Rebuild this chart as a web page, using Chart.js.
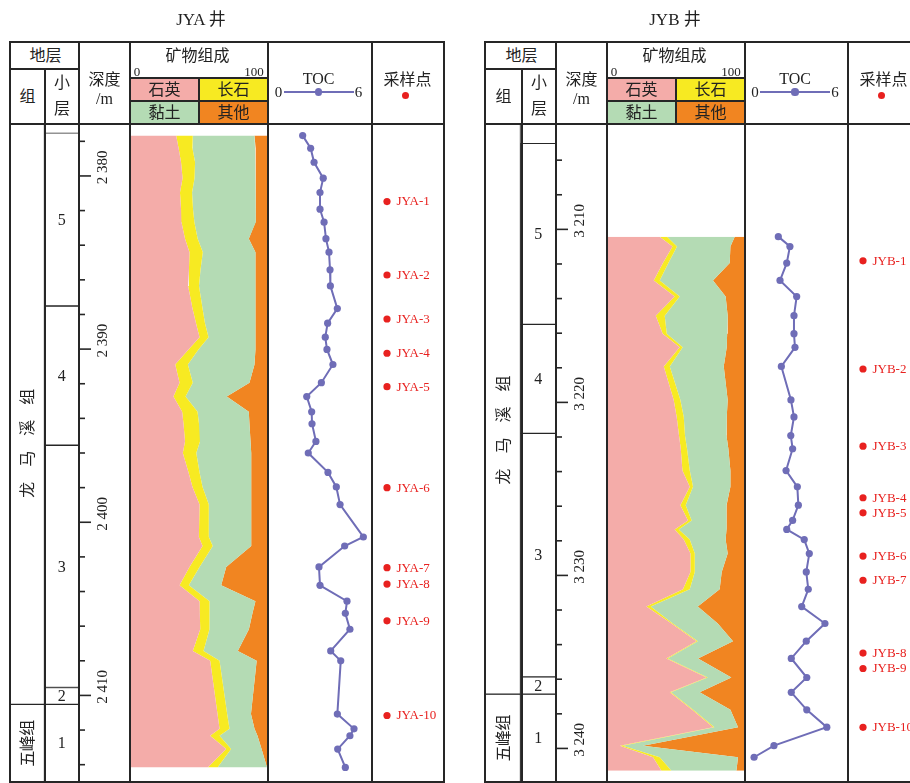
<!DOCTYPE html>
<html lang="zh">
<head>
<meta charset="utf-8">
<title>JYA / JYB 井</title>
<script src="https://cdn.jsdelivr.net/npm/chart.js@4.4.1/dist/chart.umd.min.js"></script>
<style>
html,body{margin:0;padding:0;background:#fff;}
#root{position:relative;width:910px;height:783px;overflow:hidden;background:#fff;font-family:"Liberation Serif","Noto Sans CJK SC",serif;color:#222;}
#root canvas{position:absolute;display:block;}
.ln{position:absolute;background:#262626;}
.bx{position:absolute;}
.t{position:absolute;white-space:nowrap;transform:translate(-50%,-50%);line-height:1;}
</style>
</head>
<body>
<div id="root"></div>
<script>
// ================= DATA =================
// ---- JYA well ----
const jyaRange = [2377.0, 2415.0];
const jyaDepthTicks = [2378,2380,2382,2384,2386,2388,2390,2392,2394,2396,2398,2400,2402,2404,2406,2408,2410,2412,2414];
const jyaDepthLabelValues = [2380, 2390, 2400, 2410];
const jyaDepthLabels = ['2 380', '2 390', '2 400', '2 410'];
const jyaFormationNames = ['龙马溪组', '五峰组'];
const jyaFormationTop = [2377.0, 2410.52];
const jyaFormationBottom = [2410.52, 2415.0];
const jyaLayerNames = ['5', '4', '3', '2', '1'];
const jyaLayerTop = [2377.51, 2387.51, 2395.55, 2409.54, 2410.52];
const jyaLayerBottom = [2387.51, 2395.55, 2409.54, 2410.52, 2415.0];
const jyaDepth = [2377.67, 2378.40, 2379.21, 2380.13, 2380.96, 2381.92, 2382.67, 2383.62, 2384.40, 2385.42,
  2386.35, 2387.66, 2388.50, 2389.31, 2390.02, 2390.89, 2391.94, 2392.74, 2393.62, 2394.31,
  2395.33, 2396.00, 2397.12, 2397.96, 2398.98, 2400.85, 2401.37, 2402.58, 2403.64, 2404.56,
  2405.26, 2406.18, 2407.43, 2408.00, 2411.08, 2411.93, 2412.33, 2413.10, 2414.16];
const jyaToc = [1.98, 2.45, 2.65, 3.19, 3.00, 3.00, 3.24, 3.35, 3.53, 3.59,
  3.61, 4.02, 3.45, 3.31, 3.41, 3.76, 3.08, 2.22, 2.51, 2.53,
  2.76, 2.31, 3.47, 3.96, 4.18, 5.55, 4.45, 2.94, 3.00, 4.59,
  4.49, 4.76, 3.63, 4.22, 4.02, 5.00, 4.76, 4.04, 4.49];
const jyaQuartz = [33.2, 35.0, 36.8, 37.9, 36.0, 36.8, 37.1, 39.7, 43.0, 42.6,
  42.0, 45.2, 47.8, 50.4, 42.3, 32.5, 35.7, 31.2, 37.6, 38.6,
  39.7, 38.1, 42.3, 45.2, 50.4, 49.9, 52.6, 43.0, 35.7, 50.4,
  50.6, 50.9, 45.4, 58.2, 63.6, 65.1, 58.2, 70.0, 56.4];
const jyaFeldspar = [12.2, 10.2, 10.3, 8.8, 8.9, 8.8, 9.5, 9.3, 9.8, 8.5,
  8.0, 7.4, 6.6, 6.6, 7.3, 9.3, 9.7, 8.9, 11.3, 11.4,
  11.0, 9.9, 8.1, 7.4, 6.8, 7.3, 7.5, 7.4, 6.8, 7.3,
  7.1, 6.8, 7.9, 6.9, 7.1, 7.3, 6.9, 3.6, 7.2];
const jyaClay = [45.4, 46.0, 44.8, 45.2, 47.0, 45.9, 44.9, 37.6, 38.7, 40.4,
  41.5, 38.9, 37.1, 34.5, 41.9, 49.0, 41.7, 30.3, 37.7, 37.1,
  37.2, 40.4, 38.0, 35.8, 31.2, 31.2, 28.3, 19.6, 23.8, 33.8,
  31.6, 29.0, 25.2, 27.3, 17.5, 18.4, 27.9, 22.4, 36.4];
const jyaOther = [9.2, 8.8, 8.1, 8.1, 8.1, 8.5, 8.5, 13.4, 8.5, 8.5,
  8.5, 8.5, 8.5, 8.5, 8.5, 9.2, 12.9, 29.6, 13.4, 12.9,
  12.1, 11.6, 11.6, 11.6, 11.6, 11.6, 11.6, 30.0, 33.7, 8.5,
  10.7, 13.3, 21.5, 7.6, 11.8, 9.2, 7.0, 4.0, 0.0];
const jyaSampleNames = ['JYA-1','JYA-2','JYA-3','JYA-4','JYA-5','JYA-6','JYA-7','JYA-8','JYA-9','JYA-10'];
const jyaSampleDepth = [2381.48, 2385.72, 2388.26, 2390.24, 2392.17, 2398.00, 2402.62, 2403.57, 2405.69, 2411.16];

// ---- JYB well ----
const jybRange = [3203.91, 3241.94];
const jybDepthTicks = [3206,3208,3210,3212,3214,3216,3218,3220,3222,3224,3226,3228,3230,3232,3234,3236,3238,3240];
const jybDepthLabelValues = [3210, 3220, 3230, 3240];
const jybDepthLabels = ['3 210', '3 220', '3 230', '3 240'];
const jybFormationNames = ['龙马溪组', '五峰组'];
const jybFormationTop = [3203.91, 3236.86];
const jybFormationBottom = [3236.86, 3241.94];
const jybLayerNames = ['5', '4', '3', '2', '1'];
const jybLayerTop = [3205.03, 3215.49, 3221.79, 3235.86, 3236.86];
const jybLayerBottom = [3215.49, 3221.79, 3235.86, 3236.86, 3241.94];
const jybTocDepth = [3210.42, 3210.99, 3211.95, 3212.95, 3213.88, 3214.99, 3216.03, 3216.82, 3217.92, 3219.86,
  3220.84, 3221.92, 3222.68, 3223.94, 3224.88, 3225.94, 3226.82, 3227.34, 3227.93, 3228.74,
  3229.80, 3230.80, 3231.80, 3232.78, 3233.80, 3234.80, 3235.90, 3236.76, 3237.77, 3238.77,
  3239.84, 3240.51];
const jybToc = [1.92, 2.61, 2.42, 2.02, 3.01, 2.85, 2.85, 2.91, 2.10, 2.67,
  2.85, 2.66, 2.77, 2.38, 3.05, 3.11, 2.77, 2.42, 3.46, 3.76,
  3.58, 3.70, 3.31, 4.69, 3.58, 2.69, 3.61, 2.69, 3.61, 4.80,
  1.66, 0.48];
const jybMineralDepth = [3210.42, 3210.99, 3211.95, 3212.95, 3213.88, 3214.99, 3216.03, 3216.82, 3217.92, 3219.86,
  3220.84, 3221.92, 3222.68, 3223.94, 3224.88, 3225.94, 3226.82, 3227.34, 3227.93, 3228.74,
  3229.80, 3230.80, 3231.80, 3232.78, 3233.80, 3234.80, 3235.90, 3236.76, 3237.77, 3238.77,
  3239.84, 3240.51, 3241.29];
const jybQuartz = [38.0, 47.4, 40.4, 33.6, 49.0, 35.1, 40.2, 52.7, 41.0, 48.3,
  50.5, 52.2, 53.5, 54.7, 60.1, 53.2, 58.8, 49.0, 55.7, 60.6,
  60.6, 55.1, 28.2, 46.6, 65.0, 42.9, 72.4, 45.4, 61.8, 77.2,
  8.6, 33.1, 39.3];
const jybFeldspar = [5.4, 3.3, 4.0, 4.4, 3.7, 6.6, 3.0, 2.2, 4.4, 4.9,
  5.2, 4.4, 4.6, 5.4, 2.4, 3.9, 2.7, 3.0, 4.4, 3.2,
  3.2, 5.0, 3.2, 1.0, 1.0, 1.0, 0.9, 0.9, 0.8, 1.0,
  2.2, 4.9, 7.3];
const jybClay = [49.8, 39.3, 45.1, 39.2, 33.8, 46.3, 44.4, 32.4, 39.7, 34.8,
  31.6, 30.5, 30.4, 29.9, 27.5, 30.0, 25.8, 35.1, 26.4, 24.2,
  19.8, 22.0, 34.6, 33.1, 25.9, 22.3, 17.4, 21.1, 27.4, 17.4,
  14.9, 57.6, 47.8];
const jybOther = [6.8, 10.0, 10.5, 22.8, 13.5, 12.0, 12.4, 12.7, 14.9, 12.0,
  12.7, 12.9, 11.5, 10.0, 10.0, 12.9, 12.7, 12.9, 13.5, 12.0,
  16.4, 17.9, 34.0, 19.3, 8.1, 33.8, 9.3, 32.6, 10.0, 4.4,
  74.3, 4.4, 5.6];
const jybSampleNames = ['JYB-1','JYB-2','JYB-3','JYB-4','JYB-5','JYB-6','JYB-7','JYB-8','JYB-9','JYB-10'];
const jybSampleDepth = [3211.82, 3218.07, 3222.53, 3225.51, 3226.38, 3228.88, 3230.28, 3234.49, 3235.38, 3238.78];

const mineralNames = ['石英', '长石', '黏土', '其他'];

// ================= STYLE / LAYOUT =================
const COLORS = { line:'#262626', quartz:'#F4ACA9', feldspar:'#F7EA22', clay:'#B4DBB4', other:'#F18521', toc:'#6f6db7', sample:'#E8211F', text:'#222' };
const SERIF = '"Liberation Serif", "Noto Sans CJK SC", serif';
const CJK = '"Noto Sans CJK SC", "Liberation Serif", sans-serif';
const BODY_TOP = 124, BODY_BOT = 782, BODY_H = BODY_BOT - BODY_TOP;

const WELLS = [
  { title:'JYA 井', titleX:201, cols:[10,45,79,130,268,372,444], range:jyaRange,
    ticks:jyaDepthTicks, labelValues:jyaDepthLabelValues, labels:jyaDepthLabels,
    formations:jyaFormationNames, formationTop:jyaFormationTop, formationBottom:jyaFormationBottom,
    layers:jyaLayerNames, layerTop:jyaLayerTop, layerBottom:jyaLayerBottom,
    mineralDepth:jyaDepth, quartz:jyaQuartz, feldspar:jyaFeldspar, clay:jyaClay, other:jyaOther,
    tocDepth:jyaDepth, toc:jyaToc, sampleNames:jyaSampleNames, sampleDepth:jyaSampleDepth,
    formationText:[{depth:2395.44, step:31}, {depth:null, step:15.5}] },
  { title:'JYB 井', titleX:675, cols:[485,522,556,607,745,848,920], range:jybRange,
    ticks:jybDepthTicks, labelValues:jybDepthLabelValues, labels:jybDepthLabels,
    formations:jybFormationNames, formationTop:jybFormationTop, formationBottom:jybFormationBottom,
    layers:jybLayerNames, layerTop:jybLayerTop, layerBottom:jybLayerBottom,
    mineralDepth:jybMineralDepth, quartz:jybQuartz, feldspar:jybFeldspar, clay:jybClay, other:jybOther,
    tocDepth:jybTocDepth, toc:jybToc, sampleNames:jybSampleNames, sampleDepth:jybSampleDepth,
    formationText:[{depth:3221.6, step:31}, {depth:null, step:15.5}] }
];

// ================= HELPERS =================
const root = document.getElementById('root');
function el(tag, cls, style){ const e = document.createElement(tag); if (cls) e.className = cls; Object.assign(e.style, style || {}); root.appendChild(e); return e; }
function hline(x1, x2, y, t = 2, color){ const e = el('div','ln',{left:(x1 - t/2)+'px', top:(y - t/2)+'px', width:(x2 - x1 + t)+'px', height:t+'px'}); if (color) e.style.background = color; return e; }
function vline(x, y1, y2, t = 2){ return el('div','ln',{left:(x - t/2)+'px', top:(y1 - t/2)+'px', width:t+'px', height:(y2 - y1 + t)+'px'}); }
function box(x, y, w, h, bg){ return el('div','bx',{left:x+'px', top:y+'px', width:w+'px', height:h+'px', background:bg}); }
function dot(x, y, r, bg){ return el('div','bx',{left:(x - r)+'px', top:(y - r)+'px', width:(2*r)+'px', height:(2*r)+'px', borderRadius:'50%', background:bg}); }
function label(str, x, y, size, extra){ const e = el('div','t', Object.assign({left:x+'px', top:y+'px', fontSize:size+'px'}, extra || {})); e.textContent = str; return e; }
function canvasAt(x, y, w, h){ const c = el('canvas', null, {left:x+'px', top:y+'px', width:w+'px', height:h+'px'}); c.width = w; c.height = h; return c; }
function baseOpts(){
  return { responsive:false, maintainAspectRatio:false, animation:false, events:[],
    layout:{ padding:0, autoPadding:false },
    plugins:{ legend:{display:false}, tooltip:{enabled:false}, title:{display:false} } };
}

// ================= BUILD =================
function buildWell(w){
  const c = w.cols;
  const yScale = () => ({ type:'linear', min:w.range[0], max:w.range[1], reverse:true, display:false });

  // --- strata columns (floating bars) ---
  const cvS = canvasAt(c[0], BODY_TOP, c[2] - c[0], BODY_H);
  const sds = [];
  w.formations.forEach((n, i) => sds.push({ label:n, kind:'f', idx:i, data:[[w.formationTop[i], w.formationBottom[i]], null] }));
  w.layers.forEach((n, i) => sds.push({ label:n, kind:'l', idx:i, data:[null, [w.layerTop[i], w.layerBottom[i]]] }));
  sds.forEach(d => Object.assign(d, { backgroundColor:'#fff', borderColor:COLORS.line, borderWidth:1, borderSkipped:false, grouped:false, barPercentage:1, categoryPercentage:1 }));
  new Chart(cvS, {
    type:'bar',
    data:{ labels:['组','小层'], datasets:sds },
    options:Object.assign(baseOpts(), { scales:{ x:{ type:'category', display:false }, y:yScale() } }),
    plugins:[{ id:'strataText', afterDatasetsDraw(chart){
      const ctx = chart.ctx, ys = chart.scales.y;
      ctx.save(); ctx.fillStyle = COLORS.text; ctx.textAlign = 'center'; ctx.textBaseline = 'middle';
      chart.data.datasets.forEach((ds, i) => {
        const meta = chart.getDatasetMeta(i);
        if (ds.kind === 'f') {
          const e = meta.data[0]; const st = w.formationText[ds.idx];
          const cy = st.depth != null ? ys.getPixelForValue(st.depth) : (e.y + e.base) / 2;
          ctx.font = '16px ' + CJK;
          ctx.save(); ctx.translate(e.x, cy); ctx.rotate(-Math.PI / 2);
          const chars = [...ds.label];
          chars.forEach((ch, k) => ctx.fillText(ch, (k - (chars.length - 1) / 2) * st.step, 0));
          ctx.restore();
        } else {
          const e = meta.data[1];
          ctx.font = '16px ' + SERIF;
          ctx.fillText(ds.label, e.x, (e.y + e.base) / 2 + 1);
        }
      });
      ctx.restore();
    } }]
  });

  // --- depth axis ---
  const cvD = canvasAt(c[2], BODY_TOP, c[3] - c[2], BODY_H);
  new Chart(cvD, {
    type:'scatter',
    data:{ datasets:[] },
    options:Object.assign(baseOpts(), { scales:{ x:{ type:'linear', min:0, max:1, display:false }, y:yScale() } }),
    plugins:[{ id:'depthAxis', afterDraw(chart){
      const ctx = chart.ctx, ys = chart.scales.y;
      ctx.save(); ctx.strokeStyle = COLORS.line; ctx.lineWidth = 1.6;
      w.ticks.forEach(v => {
        const py = ys.getPixelForValue(v);
        const len = w.labelValues.includes(v) ? 12 : 6;
        ctx.beginPath(); ctx.moveTo(0, py); ctx.lineTo(len, py); ctx.stroke();
      });
      ctx.fillStyle = COLORS.text; ctx.font = '15px ' + SERIF; ctx.textAlign = 'center'; ctx.textBaseline = 'middle';
      w.labelValues.forEach((v, i) => {
        const py = ys.getPixelForValue(v);
        ctx.save(); ctx.translate(24, py - 8.5); ctx.rotate(-Math.PI / 2);
        ctx.fillText(w.labels[i], 0, 0); ctx.restore();
      });
      ctx.restore();
    } }]
  });

  // --- mineral composition (stacked area, depth on y) ---
  const cvM = canvasAt(c[3] + 1, BODY_TOP, c[4] - c[3] - 2, BODY_H);
  const comps = [[w.quartz, COLORS.quartz], [w.feldspar, COLORS.feldspar], [w.clay, COLORS.clay], [w.other, COLORS.other]];
  new Chart(cvM, {
    type:'line',
    data:{ datasets: comps.map(([vals, col], i) => ({
      label: mineralNames[i],
      data: w.mineralDepth.map((d, j) => ({ x: vals[j], y: d })),
      backgroundColor: col, borderColor: 'rgba(0,0,0,0)', borderWidth: 0,
      pointRadius: 0, tension: 0, fill: i === 0 ? 'origin' : '-1'
    })) },
    options:Object.assign(baseOpts(), { indexAxis:'y', scales:{ x:{ type:'linear', min:0, max:100, stacked:true, display:false }, y:yScale() } })
  });

  // --- TOC curve ---
  const cvT = canvasAt(c[4] + 1, BODY_TOP, c[5] - c[4] - 2, BODY_H);
  new Chart(cvT, {
    type:'scatter',
    data:{ datasets:[{ label:'TOC', data: w.tocDepth.map((d, j) => ({ x: w.toc[j], y: d })),
      showLine:true, borderColor:COLORS.toc, borderWidth:2, backgroundColor:COLORS.toc,
      pointBackgroundColor:COLORS.toc, pointBorderWidth:0, pointRadius:3.6, clip:false }] },
    options:Object.assign(baseOpts(), { scales:{ x:{ type:'linear', min:0, max:6, display:false }, y:yScale() } })
  });

  // --- sampling points ---
  const cvP = canvasAt(c[5] + 1, BODY_TOP, c[6] - c[5] - 2, BODY_H);
  const pOpts = baseOpts(); pOpts.layout.padding = { left:14, right:0, top:0, bottom:0 };
  pOpts.scales = { x:{ type:'linear', min:0, max:1, display:false }, y:yScale() };
  new Chart(cvP, {
    type:'scatter',
    data:{ datasets:[{ label:'采样点', data: w.sampleDepth.map(d => ({ x:0, y:d })),
      pointBackgroundColor:COLORS.sample, backgroundColor:COLORS.sample, pointBorderWidth:0, pointRadius:3.6, clip:false }] },
    options:pOpts,
    plugins:[{ id:'sampleText', afterDatasetsDraw(chart){
      const ctx = chart.ctx, meta = chart.getDatasetMeta(0);
      ctx.save(); ctx.fillStyle = COLORS.sample; ctx.font = '13px ' + SERIF; ctx.textAlign = 'left'; ctx.textBaseline = 'middle';
      meta.data.forEach((p, i) => ctx.fillText(w.sampleNames[i], p.x + 9.5, p.y + 0.5));
      ctx.restore();
    } }]
  });

  // --- header: legend fills ---
  const mm = (c[3] + c[4]) / 2;
  box(c[3], 78, mm - c[3], 23, COLORS.quartz);
  box(mm, 78, c[4] - mm, 23, COLORS.feldspar);
  box(c[3], 101, mm - c[3], 23, COLORS.clay);
  box(mm, 101, c[4] - mm, 23, COLORS.other);

  // --- table lines ---
  hline(c[0], c[6], 42); hline(c[0], c[2], 69); hline(c[0], c[6], BODY_TOP); hline(c[0], c[6], BODY_BOT);
  [0,2,3,4,5,6].forEach(i => vline(c[i], 42, BODY_BOT));
  vline(c[1], 69, BODY_BOT);
  hline(c[3], c[4], 78); hline(c[3], c[4], 101); vline(mm, 78, BODY_TOP);

  // --- header texts ---
  label(w.title, w.titleX, 19, 17);
  label('地层', (c[0] + c[2]) / 2 + 1, 55.5, 16);
  label('组', (c[0] + c[1]) / 2, 97, 16);
  label('小', (c[1] + c[2]) / 2, 83, 16);
  label('层', (c[1] + c[2]) / 2, 109, 16);
  label('深度', (c[2] + c[3]) / 2, 80, 16);
  label('/m', (c[2] + c[3]) / 2, 99, 16);
  label('矿物组成', mm - 1.5, 56, 16);
  label('0', c[3] + 7, 71, 13);
  label('100', c[4] - 14, 71, 13);
  label(mineralNames[0], (c[3] + mm) / 2, 90, 16);
  label(mineralNames[1], (mm + c[4]) / 2, 90, 16);
  label(mineralNames[2], (c[3] + mm) / 2, 112.5, 16);
  label(mineralNames[3], (mm + c[4]) / 2, 112.5, 16);
  const tm = (c[4] + c[5]) / 2 - 1.5;
  label('TOC', tm, 79, 16);
  hline(tm - 34, tm + 34, 92, 2, COLORS.toc);
  dot(tm, 92, 3.6, COLORS.toc);
  label('0', tm - 40, 92, 15);
  label('6', tm + 40, 92, 15);
  label('采样点', c[5] + 35.5, 80, 16);
  dot(c[5] + 33.5, 95.5, 3.8, COLORS.sample);
}

WELLS.forEach(buildWell);
</script>
</body>
</html>
